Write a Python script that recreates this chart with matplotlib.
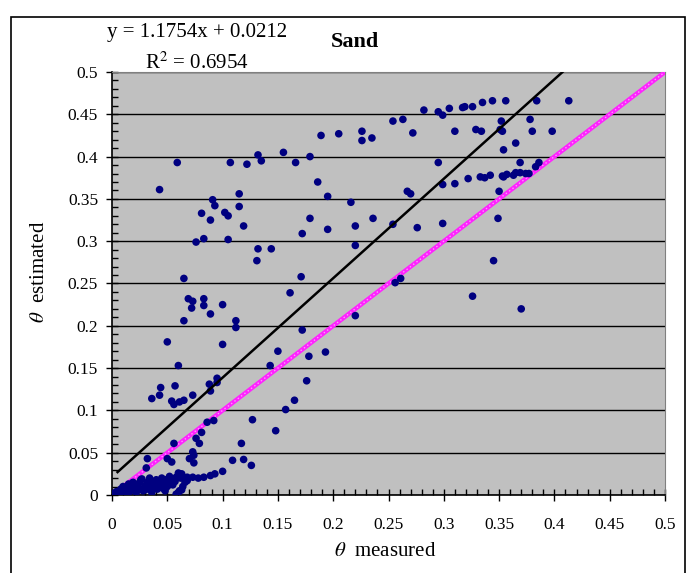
import numpy as np
import matplotlib
matplotlib.use('Agg')
from matplotlib import pyplot as plt
from matplotlib.ticker import MultipleLocator, FuncFormatter
from matplotlib.patches import Rectangle

plt.rcParams['font.family'] = ['Liberation Serif', 'DejaVu Serif']
plt.rcParams['mathtext.fontset'] = 'stix'

# measured vs estimated water content
theta_measured = [
    0.043, 0.059, 0.065, 0.091, 0.093, 0.081, 0.089, 0.102, 0.105, 0.115,
    0.115, 0.119, 0.076, 0.083, 0.105, 0.107, 0.122, 0.132, 0.135, 0.132,
    0.144, 0.131, 0.155, 0.166, 0.179, 0.189, 0.205, 0.226, 0.226, 0.235,
    0.254, 0.186, 0.195, 0.216, 0.179, 0.195, 0.172, 0.220, 0.236, 0.220,
    0.254, 0.171, 0.263, 0.272, 0.282, 0.295, 0.299, 0.305, 0.317, 0.319,
    0.326, 0.335, 0.344, 0.356, 0.384, 0.413, 0.310, 0.329, 0.334, 0.352,
    0.353, 0.351, 0.378, 0.380, 0.398, 0.365, 0.354, 0.295, 0.369, 0.383,
    0.386, 0.299, 0.310, 0.322, 0.333, 0.337, 0.342, 0.353, 0.357, 0.363,
    0.365, 0.369, 0.374, 0.377, 0.267, 0.270, 0.350, 0.276, 0.299, 0.349,
    0.345, 0.261, 0.256, 0.326, 0.370, 0.161, 0.354,
    0.069, 0.073, 0.083, 0.072, 0.083, 0.100, 0.089, 0.065, 0.112, 0.112,
    0.050, 0.100, 0.060, 0.036, 0.043, 0.044, 0.057, 0.054, 0.056, 0.061,
    0.065, 0.073, 0.088, 0.095, 0.095, 0.089, 0.092, 0.086, 0.081, 0.076,
    0.079, 0.073, 0.074, 0.070, 0.074, 0.056, 0.050, 0.054, 0.032, 0.031,
    0.127, 0.117, 0.109, 0.119, 0.126, 0.150, 0.143, 0.157, 0.148, 0.165,
    0.176, 0.178, 0.172, 0.193, 0.220, 0.100,
    0.093, 0.089, 0.083, 0.078, 0.073, 0.068, 0.063, 0.058, 0.054, 0.049,
    0.045, 0.041, 0.036, 0.032, 0.030, 0.025, 0.022, 0.017, 0.013, 0.008,
    0.004, 0.001, 0.061, 0.060, 0.064, 0.041, 0.046, 0.035, 0.028, 0.022,
    0.016, 0.011, 0.007, 0.055, 0.050, 0.026, 0.019, 0.063, 0.058, 0.060,
    0.040, 0.034, 0.045, 0.068, 0.052, 0.030, 0.012, 0.020, 0.038, 0.003,
    0.010, 0.015, 0.024, 0.027, 0.033, 0.039, 0.043, 0.048, 0.053, 0.057,
    0.062, 0.066, 0.048, 0.036, 0.025, 0.014, 0.006, 0.009, 0.018, 0.031,
]
theta_estimated = [
    0.361, 0.393, 0.256, 0.349, 0.342, 0.333, 0.325, 0.334, 0.330, 0.356,
    0.341, 0.318, 0.299, 0.303, 0.302, 0.393, 0.391, 0.402, 0.395, 0.291,
    0.291, 0.277, 0.405, 0.393, 0.400, 0.425, 0.427, 0.430, 0.419, 0.422,
    0.442, 0.370, 0.353, 0.346, 0.327, 0.314, 0.309, 0.318, 0.327, 0.295,
    0.320, 0.258, 0.444, 0.428, 0.455, 0.453, 0.449, 0.457, 0.458, 0.459,
    0.459, 0.464, 0.466, 0.466, 0.466, 0.466, 0.430, 0.432, 0.430, 0.442,
    0.430, 0.432, 0.444, 0.430, 0.430, 0.416, 0.408, 0.393, 0.393, 0.388,
    0.393, 0.367, 0.368, 0.374, 0.376, 0.375, 0.378, 0.377, 0.379, 0.378,
    0.381, 0.381, 0.380, 0.380, 0.359, 0.356, 0.359, 0.316, 0.321, 0.327,
    0.277, 0.256, 0.251, 0.235, 0.220, 0.239, 0.376,
    0.232, 0.229, 0.232, 0.221, 0.224, 0.225, 0.214, 0.206, 0.206, 0.198,
    0.181, 0.178, 0.153, 0.114, 0.118, 0.127, 0.129, 0.111, 0.107, 0.110,
    0.112, 0.118, 0.131, 0.138, 0.133, 0.123, 0.088, 0.086, 0.074, 0.067,
    0.061, 0.051, 0.047, 0.043, 0.038, 0.061, 0.043, 0.039, 0.043, 0.032,
    0.089, 0.061, 0.041, 0.042, 0.035, 0.170, 0.153, 0.101, 0.076, 0.112,
    0.135, 0.164, 0.195, 0.169, 0.212, 0.028,
    0.025, 0.023, 0.021, 0.020, 0.021, 0.021, 0.025, 0.021, 0.019, 0.016,
    0.014, 0.014, 0.015, 0.015, 0.011, 0.015, 0.012, 0.011, 0.009, 0.007,
    0.004, 0.002, 0.005, 0.003, 0.010, 0.007, 0.008, 0.006, 0.005, 0.003,
    0.004, 0.003, 0.001, 0.012, 0.010, 0.018, 0.015, 0.006, 0.001, 0.026,
    0.018, 0.020, 0.020, 0.017, 0.022, 0.006, 0.006, 0.008, 0.010, 0.001,
    0.010, 0.013, 0.009, 0.019, 0.012, 0.016, 0.011, 0.018, 0.013, 0.016,
    0.020, 0.015, 0.005, 0.003, 0.007, 0.002, 0.004, 0.001, 0.006, 0.009,
]

# Excel trendline shown on the chart
slope = 1.1754
intercept = 0.0212
r_squared = 0.6954

fig = plt.figure(figsize=(6.87, 5.73), dpi=100)
W, H = 687.0, 573.0
ax = fig.add_axes([112 / W, 1 - 495 / H, (665 - 112) / W, (495 - 72) / H])
ax.set_facecolor('#c0c0c0')

# outer chart border
fig.patches.append(Rectangle((11 / W, -0.01), (685 - 11) / W, 1 - 17 / H + 0.01,
                             transform=fig.transFigure, fill=False,
                             ec='black', lw=1.2))

# 1:1 line
ax.plot([0, 0.5], [0, 0.5], color='#ff22ff', lw=3.2, zorder=3)
ax.plot([0, 0.5], [0, 0.5], color='#ff99ff', lw=1, ls=(0, (1, 2)), zorder=3)

ax.scatter(theta_measured, theta_estimated, s=30, color='#000080',
           edgecolors='none', zorder=4)

# regression line over the data range
xr = np.array([0.005, max(theta_measured)])
ax.plot(xr, slope * xr + intercept, color='black', lw=1.8, zorder=5)

ax.set_xlim(0, 0.5)
ax.set_ylim(0, 0.5)
ax.xaxis.set_major_locator(MultipleLocator(0.05))
ax.xaxis.set_minor_locator(MultipleLocator(0.01))
ax.yaxis.set_major_locator(MultipleLocator(0.05))
ax.yaxis.set_minor_locator(MultipleLocator(0.01))
fmt = FuncFormatter(lambda v, p: '%g' % round(v, 2))
ax.xaxis.set_major_formatter(fmt)
ax.yaxis.set_major_formatter(fmt)

ax.yaxis.grid(True, which='major', color='black', lw=1)
ax.set_axisbelow(True)

ax.tick_params(which='major', direction='inout', length=8, width=1, labelsize=12.5)
ax.tick_params(which='minor', direction='in', length=4, width=1)
ax.tick_params(axis='x', which='major', pad=12)
ax.tick_params(axis='y', which='major', pad=6)

for s in ['top', 'right']:
    ax.spines[s].set_color('#808080')
for s in ['left', 'bottom']:
    ax.spines[s].set_color('black')
    ax.spines[s].set_linewidth(1.2)

fig.text(385 / W, 1 - 552 / H, r'$\theta$  measured', ha='center', va='center', fontsize=15)
fig.text(40 / W, 1 - 272 / H, r'$\theta$  estimated', ha='center', va='center',
         rotation=90, fontsize=15)

fig.text(197 / W, 1 - 32 / H, 'y = %.4fx + %.4f' % (slope, intercept),
         ha='center', va='center', fontsize=15)
fig.text(197 / W, 1 - 63 / H, 'R$^2$ = %.4f' % r_squared,
         ha='center', va='center', fontsize=15)
fig.text(355 / W, 1 - 42 / H, 'Sand', ha='center', va='center',
         fontsize=16, fontweight='bold')

plt.savefig('out.png', dpi=100)
